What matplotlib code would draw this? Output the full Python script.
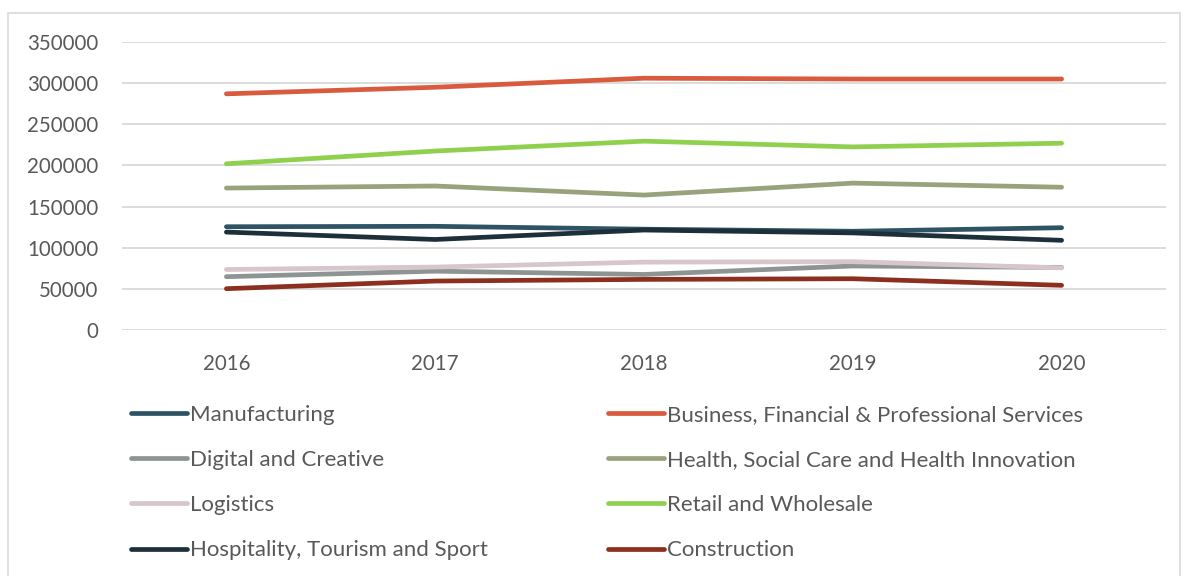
import matplotlib.pyplot as plt
from matplotlib.lines import Line2D
from matplotlib.patches import Rectangle

plt.rcParams['font.family'] = ['Lato', 'DejaVu Sans']

years = ['2016', '2017', '2018', '2019', '2020']

manufacturing = [125500, 126000, 122500, 120000, 124300]
business = [287000, 295000, 306000, 305000, 305000]
digital = [64800, 71500, 67500, 77800, 76000]
health = [172500, 175000, 164000, 178500, 173500]
logistics = [73500, 76500, 82500, 83000, 75500]
retail = [202000, 217500, 229500, 222500, 227000]
hospitality = [119000, 110000, 121500, 118000, 109000]
construction = [50200, 59500, 61500, 62300, 54300]

series = [
    ('Manufacturing', manufacturing, '#2D5365'),
    ('Business, Financial & Professional Services', business, '#DA5A3D'),
    ('Digital and Creative', digital, '#8E9494'),
    ('Health, Social Care and Health Innovation', health, '#98A27C'),
    ('Logistics', logistics, '#D7C6CA'),
    ('Retail and Wholesale', retail, '#8FD14F'),
    ('Hospitality, Tourism and Sport', hospitality, '#1D3039'),
    ('Construction', construction, '#8C2F1F'),
]

W, H = 1187, 576
fig = plt.figure(figsize=(W / 100, H / 100), dpi=100)

# light frame round the whole chart
fig.add_artist(Rectangle((8 / W, -0.05), (1180 - 8) / W, 1.05 - 13 / H,
                         transform=fig.transFigure, fill=False,
                         edgecolor='#D9D9D9', lw=1.2))

ax = fig.add_axes([122 / W, 1 - 330 / H, (1166 - 122) / W, (330 - 42) / H])

x = list(range(len(years)))
handles = {}
for name, vals, col in series:
    ax.plot(x, vals, color=col, lw=3.4, solid_capstyle='round',
            solid_joinstyle='round')
    handles[name] = Line2D([], [], color=col, lw=3.4, solid_capstyle='round')

ax.set_xlim(-0.5, len(years) - 0.5)
ax.set_ylim(0, 350000)
ax.set_yticks(range(0, 350001, 50000))
ax.set_xticks(x)
ax.set_xticklabels(years)
ax.grid(axis='y', color='#D9D9D9', lw=1.3)
ax.set_axisbelow(True)
for s in ax.spines.values():
    s.set_visible(False)
ax.tick_params(length=0, labelsize=14.8, labelcolor='#595959')
ax.tick_params(axis='y', pad=17)
ax.tick_params(axis='x', pad=17)

# legend in two columns
left_names = ['Manufacturing', 'Digital and Creative', 'Logistics',
              'Hospitality, Tourism and Sport']
right_names = ['Business, Financial & Professional Services',
               'Health, Social Care and Health Innovation',
               'Retail and Wholesale', 'Construction']
for names, x0 in [(left_names, 131), (right_names, 608)]:
    fig.legend([handles[n] for n in names], names,
               loc='upper left', bbox_to_anchor=(x0 / W, 1 - 405 / H),
               frameon=False, fontsize=16, labelcolor='#595959',
               handlelength=2.5, handletextpad=0.15, labelspacing=1.13,
               borderpad=0, borderaxespad=0)

fig.savefig('out.png', dpi=100)
